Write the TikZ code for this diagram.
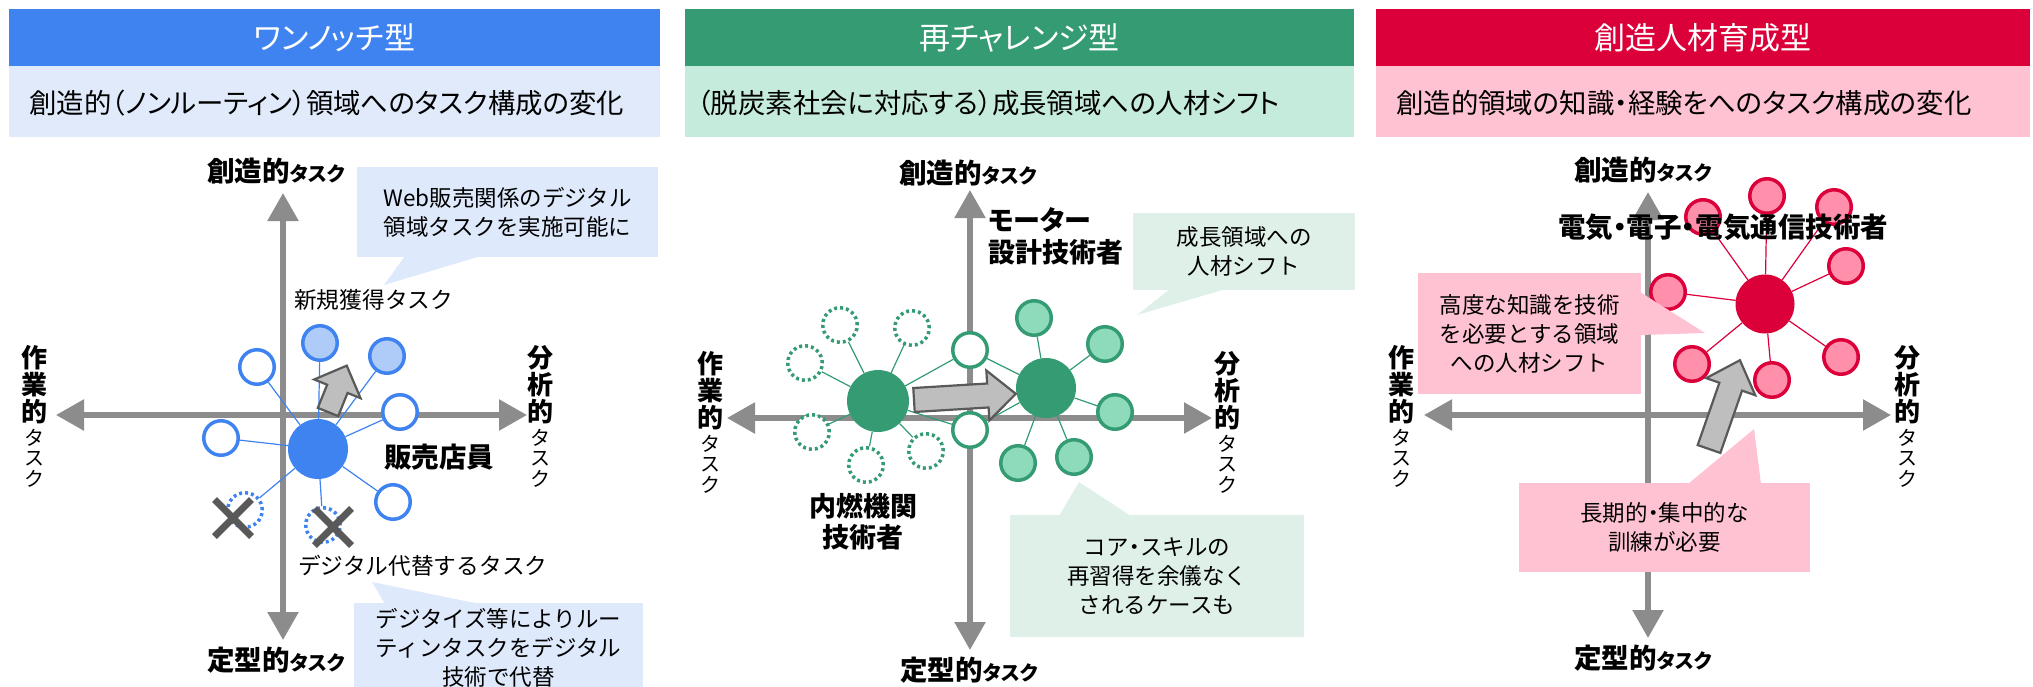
\documentclass[tikz,border=0pt]{standalone}
\usepackage{fontspec}
\setmainfont{Noto Sans CJK JP}[RawFeature=+palt]
\newfontfamily\npfam{Noto Sans CJK JP}
\usetikzlibrary{arrows.meta,shapes.misc}
\definecolor{blueM}{RGB}{63,131,240}
\definecolor{blueL}{RGB}{224,234,251}
\definecolor{blueC}{RGB}{175,203,247}
\definecolor{blueCall}{RGB}{222,233,251}
\definecolor{greenM}{RGB}{52,155,115}
\definecolor{greenL}{RGB}{197,235,220}
\definecolor{greenC}{RGB}{141,219,186}
\definecolor{greenCall}{RGB}{223,240,233}
\definecolor{redM}{RGB}{220,0,58}
\definecolor{pinkL}{RGB}{255,194,210}
\definecolor{pinkC}{RGB}{255,143,170}
\definecolor{axisG}{RGB}{140,140,140}
\definecolor{arrG}{RGB}{190,190,190}
\definecolor{arrD}{RGB}{89,89,89}
\newcommand\myfT{\fontsize{31}{36}\selectfont}
\newcommand\myfS{\fontsize{27.4}{31}\selectfont}
\newcommand\myfB{\bfseries\fontsize{27.5}{32}\selectfont}
\newcommand\myfK{\fontsize{20}{21}\selectfont}
\newcommand\myfC{\npfam\fontsize{22.5}{29}\selectfont}
\newcommand\myfR{\npfam\fontsize{22.7}{28}\selectfont}
\newcommand\pdot{{\rmfamily ・}}
\begin{document}
\begin{tikzpicture}[x=1pt,y=-1pt,
  axisv/.style={draw=axisG, line width=5.5pt, -{Triangle[width=30pt,length=28pt]}},
  axish/.style={draw=axisG, line width=5.5pt, {Triangle[width=30pt,length=28pt]}-{Triangle[width=30pt,length=28pt]}},
  titlebar/.style={inner sep=0pt, minimum height=57pt, text=white, font=\myfT},
  subbar/.style={inner sep=0pt, minimum height=71pt},
  subtext/.style={anchor=west, inner sep=0pt, font=\myfS},
  bigc/.style={circle, inner sep=0pt, minimum size=60pt},
  smc/.style={circle, inner sep=0pt, minimum size=34.5pt, line width=3.5pt},
  dotc/.style={circle, inner sep=0pt, minimum size=34.5pt, line width=3.5pt, dash pattern=on 3pt off 3pt, fill=white},
  conn/.style={line width=1.2pt},
  xmk/.style={cross out, draw=arrD, line width=7pt, minimum size=30pt, inner sep=0pt},
  blockarr/.style={fill=arrG, draw=arrD, line width=2.2pt, line join=miter},
  bold/.style={inner sep=0pt, font=\myfB},
  reg/.style={inner sep=0pt, font=\myfR},
  vk/.style={inner sep=0pt, align=center, font=\bfseries\fontsize{26}{27}\selectfont},
  vkana/.style={inner sep=0pt, align=center, font=\fontsize{20}{20.5}\selectfont},
  callbox/.style={inner sep=0pt, align=center, font=\myfC},
]
\useasboundingbox (0,0) rectangle (2033,687);

% ================= Panel 1 =================
\node[titlebar, fill=blueM, minimum width=651pt] (t1) at (334.5,37.5) {ワンノッチ型};
\node[subbar, fill=blueL, minimum width=651pt] (s1) at (334.5,101.5) {};
\node[subtext] (s1t) at (29,103) {創造的（ノンルーティン）領域へのタスク構成の変化};

\draw[axisv] (283,612) -- (283,193);
\draw[axisv] (283,420) -- (283,640);
\draw[axish] (56,415) -- (527,415);

\node[bold, anchor=base] (p1top) at (276,182) {創造的{\myfK タスク}};
\node[bold, anchor=base] (p1bot) at (276,670) {定型的{\myfK タスク}};
\node[vk, anchor=north] (p1lk) at (34,345) {作\\業\\的};
\node[vkana, anchor=north] (p1lt) at (34,429) {タ\\ス\\ク};
\node[vk, anchor=north] (p1rk) at (540,345) {分\\析\\的};
\node[vkana, anchor=north] (p1rt) at (540,429) {タ\\ス\\ク};

\node[bigc, fill=blueM] (p1c) at (318,449) {};
\node[smc, draw=blueM, fill=white] (p1a) at (257,367) {};
\node[smc, draw=blueM, fill=blueC] (p1b) at (320,343) {};
\node[smc, draw=blueM, fill=blueC] (p1d) at (387,356) {};
\node[smc, draw=blueM, fill=white] (p1e) at (400,412) {};
\node[smc, draw=blueM, fill=white] (p1f) at (221,438) {};
\node[smc, draw=blueM, fill=white] (p1g) at (393,502) {};
\node[dotc, draw=blueM] (p1h) at (245,510) {};
\node[dotc, draw=blueM] (p1i) at (323,525) {};
\foreach \n in {a,b,d,e,f,g,h,i} \draw[conn, blueM] (p1c) -- (p1\n);
\node[xmk] (p1x1) at (233,518) {};
\node[xmk] (p1x2) at (333,527) {};
\begin{scope}[shift={(328,412)}, rotate=68]
\draw[blockarr] (0,-11) -- (25,-11) -- (25,-25) -- (50,0) -- (25,25) -- (25,11) -- (0,11) -- cycle;
\end{scope}

\node[bold, anchor=west] (p1name) at (384,457) {販売店員};
\node[reg, anchor=west] (p1new) at (294,300) {新規獲得タスク};
\node[reg, anchor=west] (p1dig) at (298,566) {デジタル代替するタスク};

\fill[blueCall] (384,285) -- (405,256) -- (481,256) -- cycle;
\node[callbox, fill=blueCall, minimum width=301pt, minimum height=90pt] (p1cb1) at (507.5,212) {Web販売関係のデジタル\\領域タスクを実施可能に};
\fill[blueCall] (372,582) -- (385,604) -- (480,604) -- cycle;
\node[callbox, fill=blueCall, minimum width=289pt, minimum height=90pt] (p1cb2) at (498.5,648) {デジタイズ等によりルー\\ティンタスクをデジタル\\技術で代替};

% ================= Panel 2 =================
\node[titlebar, fill=greenM, minimum width=669pt] (t2) at (1019.5,37.5) {再チャレンジ型};
\node[subbar, fill=greenL, minimum width=669pt] (s2) at (1019.5,101.5) {};
\node[subtext] (s2t) at (697,103) {（脱炭素社会に対応する）成長領域への人材シフト};

\draw[axisv] (970,420) -- (970,190);
\draw[axisv] (970,420) -- (970,650);
\draw[axish] (727,418) -- (1212,418);

\node[bold, anchor=base] (p2top) at (968,183) {創造的{\myfK タスク}};
\node[bold, anchor=base] (p2bot) at (969,680) {定型的{\myfK タスク}};
\node[vk, anchor=north] (p2lk) at (710,351) {作\\業\\的};
\node[vkana, anchor=north] (p2lt) at (710,435) {タ\\ス\\ク};
\node[vk, anchor=north] (p2rk) at (1227,351) {分\\析\\的};
\node[vkana, anchor=north] (p2rt) at (1227,435) {タ\\ス\\ク};

\node[bigc, fill=greenM, minimum size=62pt] (p2L) at (878,401) {};
\node[bigc, fill=greenM] (p2R) at (1046,388) {};
\node[dotc, draw=greenM] (p2d1) at (840,325) {};
\node[dotc, draw=greenM] (p2d2) at (912,328) {};
\node[dotc, draw=greenM] (p2d3) at (805,363) {};
\node[dotc, draw=greenM] (p2d4) at (812,432) {};
\node[dotc, draw=greenM] (p2d5) at (866,465) {};
\node[dotc, draw=greenM] (p2d6) at (926,451) {};
\node[smc, draw=greenM, fill=white] (p2o1) at (970,350) {};
\node[smc, draw=greenM, fill=white] (p2o2) at (970,430) {};
\node[smc, draw=greenM, fill=greenC] (p2g1) at (1034,318) {};
\node[smc, draw=greenM, fill=greenC] (p2g2) at (1105,344) {};
\node[smc, draw=greenM, fill=greenC] (p2g3) at (1115,412) {};
\node[smc, draw=greenM, fill=greenC] (p2g4) at (1018,463) {};
\node[smc, draw=greenM, fill=greenC] (p2g5) at (1074,457) {};
\foreach \n in {d1,d2,d3,d4,d5,d6,o1,o2} \draw[conn, greenM] (p2L) -- (p2\n);
\foreach \n in {o1,o2,g1,g2,g3,g4,g5} \draw[conn, greenM] (p2R) -- (p2\n);
\begin{scope}[shift={(914,400)}, rotate=3.5]
\draw[blockarr] (0,-12) -- (74,-12) -- (74,-25) -- (102,0) -- (74,25) -- (74,12) -- (0,12) -- cycle;
\end{scope}

\node[bold, anchor=west, align=left, font=\bfseries\fontsize{27}{32}\selectfont] (p2name) at (988,236) {モーター\\設計技術者};
\node[bold, align=center, font=\bfseries\fontsize{27}{31}\selectfont] (p2old) at (863,522) {内燃機関\\技術者};

\fill[greenCall] (1137,315) -- (1170,289) -- (1226,289) -- cycle;
\node[callbox, fill=greenCall, minimum width=222pt, minimum height=77pt] (p2cb1) at (1244,251.5) {成長領域への\\人材シフト};
\fill[greenCall] (1079,482) -- (1059,516) -- (1131,516) -- cycle;
\node[callbox, fill=greenCall, minimum width=294pt, minimum height=122pt] (p2cb2) at (1157,576) {コア\pdot スキルの\\再習得を余儀なく\\されるケースも};

% ================= Panel 3 =================
\node[titlebar, fill=redM, minimum width=654pt] (t3) at (1703,37.5) {創造人材育成型};
\node[subbar, fill=pinkL, minimum width=654pt] (s3) at (1703,101.5) {};
\node[subtext] (s3t) at (1396,103) {創造的領域の知識・経験をへのタスク構成の変化};

\draw[axisv] (1648,415) -- (1648,192);
\draw[axisv] (1648,415) -- (1648,638);
\draw[axish] (1424,415) -- (1891,415);

\node[bold, anchor=base] (p3top) at (1643,181) {創造的{\myfK タスク}};
\node[bold, anchor=base] (p3bot) at (1643,668) {定型的{\myfK タスク}};
\node[vk, anchor=north] (p3lk) at (1401,345) {作\\業\\的};
\node[vkana, anchor=north] (p3lt) at (1401,429) {タ\\ス\\ク};
\node[vk, anchor=north] (p3rk) at (1907,345) {分\\析\\的};
\node[vkana, anchor=north] (p3rt) at (1907,429) {タ\\ス\\ク};

\node[bigc, fill=redM, minimum size=59pt] (p3c) at (1765,304) {};
\node[smc, draw=redM, fill=pinkC] (p3a) at (1767,196) {};
\node[smc, draw=redM, fill=pinkC] (p3b) at (1834,207) {};
\node[smc, draw=redM, fill=pinkC] (p3d) at (1703,217) {};
\node[smc, draw=redM, fill=pinkC] (p3e) at (1846,266) {};
\node[smc, draw=redM, fill=pinkC] (p3f) at (1668,292) {};
\node[smc, draw=redM, fill=pinkC] (p3g) at (1841,357) {};
\node[smc, draw=redM, fill=pinkC] (p3h) at (1692,364) {};
\node[smc, draw=redM, fill=pinkC] (p3i) at (1772,380) {};
\foreach \n in {a,b,d,e,f,g,h,i} \draw[conn, redM] (p3c) -- (p3\n);
\begin{scope}[shift={(1709,449)}, rotate=70.8]
\draw[blockarr] (0,-12) -- (66,-12) -- (66,-26) -- (94,0) -- (66,26) -- (66,12) -- (0,12) -- cycle;
\end{scope}

\node[bold, font=\bfseries\fontsize{27.5}{32}\selectfont] (p3name) at (1723,227) {電気・電子・電気通信技術者};

\fill[pinkL] (1705,333) -- (1640,292) -- (1640,335) -- cycle;
\node[callbox, fill=pinkL, minimum width=223pt, minimum height=121pt] (p3cb1) at (1529.5,333.5) {高度な知識を技術\\を必要とする領域\\への人材シフト};
\fill[pinkL] (1754,429) -- (1688,484) -- (1761,484) -- cycle;
\node[callbox, fill=pinkL, minimum width=291pt, minimum height=89pt] (p3cb2) at (1664.5,527.5) {長期的\pdot 集中的な\\訓練が必要};
\end{tikzpicture}
\end{document}
